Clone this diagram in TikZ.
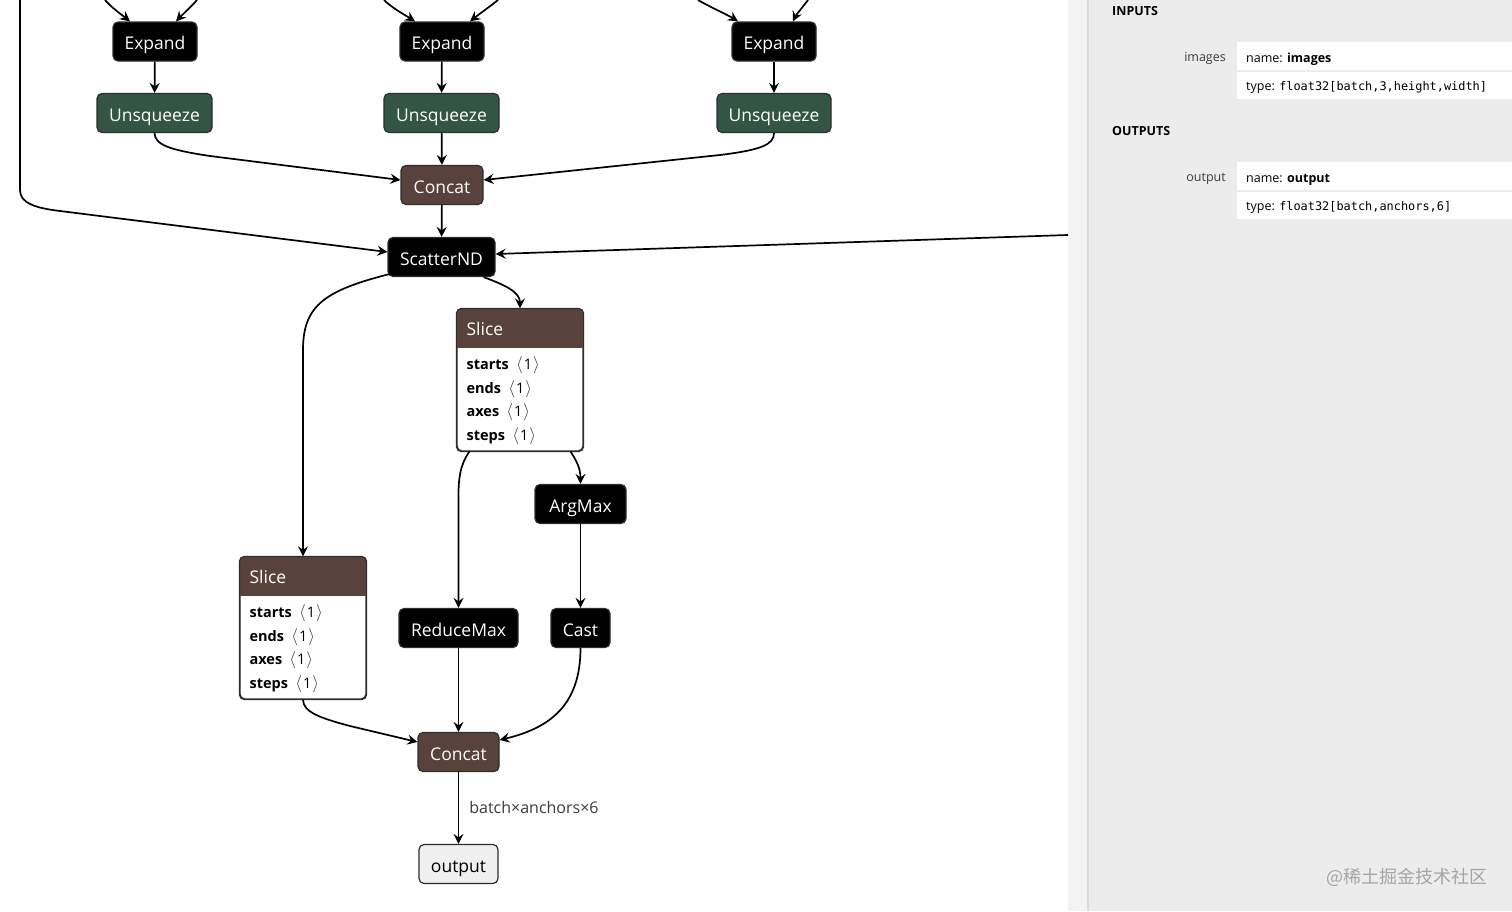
\documentclass[tikz,border=0pt]{standalone}
\usepackage{fontspec}
\setmainfont{Open Sans}
\setmonofont{DejaVu Sans Mono}
\newfontfamily\cjk{Noto Sans CJK SC}
\usetikzlibrary{arrows.meta,calc}
\definecolor{transf}{RGB}{51,85,68}
\definecolor{tens}{RGB}{89,66,59}
\definecolor{panelbg}{RGB}{236,236,236}
\definecolor{panelstrip}{RGB}{243,243,243}
\definecolor{panelline}{RGB}{218,218,218}
\definecolor{nodeborder}{RGB}{45,45,45}
\definecolor{outfill}{RGB}{240,240,240}
\definecolor{wmark}{RGB}{165,165,165}
\definecolor{labeltxt}{RGB}{60,60,60}
\definecolor{brk}{RGB}{60,60,60}
\newcommand{\ab}{\enspace{\color{brk}\fontsize{18}{18}\selectfont$\langle$}\kern1pt1\kern1pt{\color{brk}\fontsize{18}{18}\selectfont$\rangle$}}
\begin{document}
\begin{tikzpicture}[x=1pt,y=-1pt,
  opbox/.style={rounded corners=5pt, draw=nodeborder, line width=1.2pt, text=white,
    font=\fontsize{17.5}{20}\selectfont, minimum height=39, inner sep=0pt,
    text height=16pt, text depth=0pt, anchor=center},
  blk/.style={opbox, fill=black},
  grn/.style={opbox, fill=transf},
  brn/.style={opbox, fill=tens},
  outbox/.style={opbox, fill=outfill, text=black},
  slicebox/.style={rounded corners=5pt, draw=nodeborder, line width=1.2pt, fill=white, inner sep=0pt},
  attr/.style={anchor=base west, inner sep=0pt, font=\fontsize{14.5}{17}\selectfont},
  edge/.style={-{Stealth[length=10pt,width=10pt,inset=3.5pt]}, line width=1.7pt},
  ptxt/.style={inner sep=0pt, font=\fontsize{12.5}{15}\selectfont},
]
\useasboundingbox (0,0) rectangle (1512,911);
\fill[white] (0,0) rectangle (1068,911);

% right panel
\fill[panelstrip] (1068,0) rectangle (1088,911);
\fill[panelbg] (1088,0) rectangle (1512,911);
\draw[panelline, line width=1.2pt] (1088,0) -- (1088,911);

% nodes
\node[blk, minimum width=84] (e1) at (155,41.5) {Expand};
\node[blk, minimum width=84] (e2) at (442,41.5) {Expand};
\node[blk, minimum width=84] (e3) at (774,41.5) {Expand};
\node[grn, minimum width=115] (u1) at (154.5,113) {Unsqueeze};
\node[grn, minimum width=115] (u2) at (441.5,113) {Unsqueeze};
\node[grn, minimum width=114] (u3) at (774,113) {Unsqueeze};
\node[brn, minimum width=82] (c1) at (442,185) {Concat};
\node[blk, minimum width=107] (sc) at (441.5,257) {ScatterND};
\node[blk, minimum width=91] (am) at (580.5,504) {ArgMax};
\node[blk, minimum width=119] (rm) at (458.5,628) {ReduceMax};
\node[blk, minimum width=59] (ca) at (580.5,628) {Cast};
\node[brn, minimum width=81] (c2) at (458.5,752) {Concat};
\node[outbox, minimum width=79] (out) at (458.5,864) {output};

% slice 1
\node[slicebox, minimum width=126, minimum height=142] (s1) at (520,380) {};
\begin{scope}
  \clip ($(s1.north west)+(-2,-2)$) rectangle ($(s1.north east)+(2,39)$);
  \fill[tens, rounded corners=5pt] (s1.north west) rectangle (s1.south east);
\end{scope}
\draw[nodeborder, line width=1.2pt, rounded corners=5pt] (s1.north west) rectangle (s1.south east);
\node[attr, text=white, font=\fontsize{17.5}{20}\selectfont] (s1h) at ($(s1.north west)+(10,27)$) {Slice};
\node[attr] (s1a) at ($(s1.north west)+(10,61.5)$) {\textbf{starts}\ab};
\node[attr] (s1b) at ($(s1.north west)+(10,85.5)$) {\textbf{ends}\ab};
\node[attr] (s1c) at ($(s1.north west)+(10,108.5)$) {\textbf{axes}\ab};
\node[attr] (s1d) at ($(s1.north west)+(10,132.5)$) {\textbf{steps}\ab};

% slice 2
\node[slicebox, minimum width=126, minimum height=142] (s2) at (303,628) {};
\begin{scope}
  \clip ($(s2.north west)+(-2,-2)$) rectangle ($(s2.north east)+(2,39)$);
  \fill[tens, rounded corners=5pt] (s2.north west) rectangle (s2.south east);
\end{scope}
\draw[nodeborder, line width=1.2pt, rounded corners=5pt] (s2.north west) rectangle (s2.south east);
\node[attr, text=white, font=\fontsize{17.5}{20}\selectfont] (s2h) at ($(s2.north west)+(10,27)$) {Slice};
\node[attr] (s2a) at ($(s2.north west)+(10,61.5)$) {\textbf{starts}\ab};
\node[attr] (s2b) at ($(s2.north west)+(10,85.5)$) {\textbf{ends}\ab};
\node[attr] (s2c) at ($(s2.north west)+(10,108.5)$) {\textbf{axes}\ab};
\node[attr] (s2d) at ($(s2.north west)+(10,132.5)$) {\textbf{steps}\ab};

% free ends
\coordinate (t1a) at (105,0);
\coordinate (t1b) at (197,0);
\coordinate (t2a) at (384,0);
\coordinate (t2b) at (498,0);
\coordinate (t3a) at (698,0);
\coordinate (t3b) at (808,0);
\coordinate (lft) at (20,0);
\coordinate (rgt) at (1068,235);

% edges into expands
\draw[edge] (t1a) .. controls (112,8) and (122,15) .. ([xshift=-25pt]e1.north);
\draw[edge] (t1b) .. controls (190,8) and (182,15) .. ([xshift=21pt]e1.north);
\draw[edge] (t2a) .. controls (392,8) and (405,15) .. ([xshift=-27pt]e2.north);
\draw[edge] (t2b) .. controls (488,8) and (478,15) .. ([xshift=28pt]e2.north);
\draw[edge] (t3a) .. controls (712,8) and (728,15) .. ([xshift=-36pt]e3.north);
\draw[edge] (t3b) .. controls (802,8) and (796,15) .. ([xshift=19pt]e3.north);

\draw[edge] (e1) -- (u1);
\draw[edge] (e2) -- (u2);
\draw[edge] (e3) -- (u3);
\draw[edge] (u2) -- (c1);
\draw[edge] (u1.south) .. controls (155,145) and (170,150) .. (210,156) -- ([yshift=5pt]c1.west);
\draw[edge] (u3.south) .. controls (774,145) and (760,150) .. (720,155) -- ([yshift=5pt]c1.east);
\draw[edge] (c1) -- (sc);
\draw[edge] (lft) -- (20,190) .. controls (20,203) and (35,208) .. (60,211) -- ([yshift=5pt]sc.west);
\draw[edge] (rgt) -- ([yshift=3pt]sc.east);

\draw[edge] ([xshift=6pt,yshift=4pt]sc.south west) .. controls (325,290) and (303,305) .. (303,350) -- (s2.north);
\draw[edge] ([xshift=-12pt]sc.south east) .. controls (505,285) and (520,292) .. (s1.north);
\draw[edge] ([xshift=13pt]s1.south west) .. controls (460,465) and (458,478) .. (458.5,505) -- (rm.north);
\draw[edge] ([xshift=-13pt]s1.south east) .. controls (576,460) and (580.5,468) .. (am.north);
\draw[edge] (am) -- (ca);
\draw[edge] (rm) -- (c2);
\draw[edge] (s2.south) .. controls (303,712) and (320,718) .. (350,726) -- ([yshift=10pt]c2.west);
\draw[edge] (ca.south) .. controls (580.5,705) and (550,728) .. ([yshift=12pt]c2.east);
\draw[edge] (c2) -- node[right, xshift=10pt, yshift=1pt, inner sep=0pt, font=\fontsize{16}{18}\selectfont, text=labeltxt] (lbl) {batch×anchors×6} (out);

% panel text
\node[ptxt, anchor=base west, font=\bfseries\fontsize{12.5}{15}\selectfont] (inp) at (1112,15) {INPUTS};
\node[ptxt, anchor=base west, font=\bfseries\fontsize{12.5}{15}\selectfont] (outp) at (1112,135) {OUTPUTS};
\fill[white] (1237,42) rectangle (1512,99);
\draw[panelbg, line width=1.5pt] (1237,71) -- (1512,71);
\fill[white] (1237,162) rectangle (1512,219);
\draw[panelbg, line width=1.5pt] (1237,191) -- (1512,191);
\node[ptxt, anchor=base east, text=labeltxt] (imgl) at (1226,61.7) {images};
\node[ptxt, anchor=base west] (imgn) at (1246,62.5) {name: \textbf{images}};
\node[ptxt, anchor=base west] (imgt) at (1246,90.5) {type: {\ttfamily\fontsize{11.9}{14}\selectfont float32[batch,3,height,width]}};
\node[ptxt, anchor=base east, text=labeltxt] (outl) at (1226,181.7) {output};
\node[ptxt, anchor=base west] (outn) at (1246,182.5) {name: \textbf{output}};
\node[ptxt, anchor=base west] (outt) at (1246,210) {type: {\ttfamily\fontsize{11.9}{14}\selectfont float32[batch,anchors,6]}};

% watermark
\node[anchor=east, inner sep=0pt, text=wmark, font=\cjk\fontsize{18}{20}\selectfont] (wm) at (1488,877) {@稀土掘金技术社区};
\end{tikzpicture}
\end{document}
